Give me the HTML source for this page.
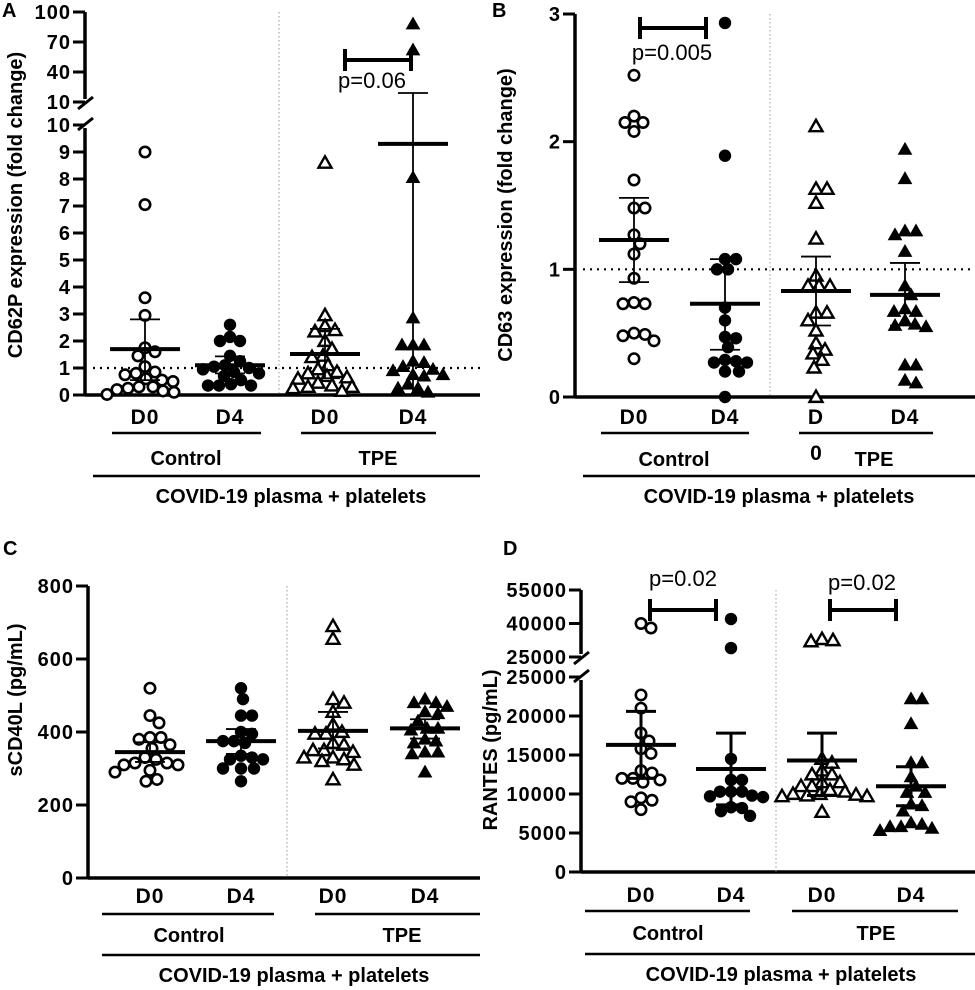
<!DOCTYPE html>
<html><head><meta charset="utf-8"><style>
html,body{margin:0;padding:0;background:#fff;}
svg{display:block;font-family:"Liberation Sans",Arial,sans-serif;}
</style></head><body>
<svg id="fig" width="975" height="990" viewBox="0 0 975 990" xmlns="http://www.w3.org/2000/svg"></svg>
<script>
// ---------- DATA ----------
const groupLabels = ["D0","D4","D0","D4"];
// Panel A: CD62P fold change
const aCtrlD0 = [9,7.05,3.6,2.95,1.6,1.75,1.45,1.05,0.8,0.75,0.85,0.55,0.6,0.5,0.3,0.25,0.15,0.2,0.1,0.3,0.02];
const aCtrlD4 = [2.6,2.15,2.0,2.0,1.45,1.25,1.1,1.05,1.0,0.95,0.85,0.8,0.7,0.55,0.35,0.35,0.35,0.4];
const aTpeD0 = [8.6,2.95,2.55,2.4,2.35,2.0,1.7,1.45,1.4,1.1,0.95,0.85,0.8,0.7,0.65,0.6,0.45,0.35,0.3,0.3,0.25,0.15];
const aTpeD4 = [88,62,8.05,2.85,1.85,1.85,1.85,1.25,1.2,1.05,0.95,0.9,0.75,0.75,0.7,0.4,0.25,0.25,0.1];
const aMean = [1.7,1.1,1.52,9.3];
const aLo = [0.55,0.8,0.62,0];
const aHi = [2.8,1.43,2.45,19];
// Panel B: CD63 fold change
const bCtrlD0 = [2.52,2.2,2.15,2.15,2.08,1.7,1.48,1.48,1.27,1.2,1.12,0.93,0.74,0.73,0.73,0.5,0.48,0.49,0.44,0.3];
const bCtrlD4 = [2.93,1.89,1.08,1.08,1.0,1.0,0.7,0.6,0.47,0.46,0.39,0.29,0.28,0.27,0.27,0.2,0.2,0.0];
const bTpeD0 = [2.12,1.63,1.63,1.52,1.24,0.95,0.87,0.87,0.87,0.66,0.66,0.6,0.52,0.42,0.37,0.34,0.29,0.23,0.0];
const bTpeD4 = [1.94,1.71,1.3,1.3,1.27,1.14,0.87,0.8,0.67,0.67,0.69,0.57,0.6,0.55,0.56,0.25,0.25,0.13,0.11];
const bMean = [1.23,0.73,0.83,0.8];
const bLo = [0.9,0.37,0.56,0.56];
const bHi = [1.56,1.08,1.1,1.05];
// Panel C: sCD40L pg/mL
const cCtrlD0 = [520,445,425,385,380,385,365,355,330,325,315,310,310,315,295,290,270,265];
const cCtrlD4 = [520,490,445,445,400,395,375,375,370,335,330,325,325,300,300,300,265];
const cTpeD0 = [690,655,490,480,455,420,400,395,395,370,365,350,350,345,330,330,320,325,310,270];
const cTpeD4 = [480,490,480,470,450,455,430,410,410,405,380,375,370,345,340,345,290];
const cMean = [345,375,403,410];
const cLo = [318,340,355,382];
const cHi = [372,408,455,435];
// Panel D: RANTES pg/mL
const dCtrlD0 = [40000,38000,22700,21000,17800,16800,15200,15800,13000,11800,12000,12000,12700,11500,9000,9200,9500,8000];
const dCtrlD4 = [42000,29000,14500,11800,11800,10300,10300,10300,9600,9800,9700,8200,8300,7800,7200];
const dTpeD0 = [33000,32500,32000,14500,14000,13000,12500,12500,11500,11500,11000,11000,10500,10300,10000,10000,9800,9700,9700,9900,7700];
const dTpeD4 = [22200,22200,19000,14000,14000,12200,11000,10200,10200,8700,8500,7800,6300,6100,5800,5800,5600,5300];
const dMean = [16300,13200,14300,11000];
const dLo = [12000,8600,9800,8500];
const dHi = [20600,17800,17800,13500];
const aTicksLow = [0,1,2,3,4,5,6,7,8,9,10];
const aTicksHigh = [10,40,70,100];
const bTicks = [0,1,2,3];
const cTicks = [0,200,400,600,800];
const dTicksLow = [0,5000,10000,15000,20000,25000];
const dTicksHigh = [25000,40000,55000];

// ---------- DRAW ----------
const NS="http://www.w3.org/2000/svg";
const svg=document.getElementById('fig');
function el(tag,attrs,parent,text){
  const e=document.createElementNS(NS,tag);
  for(const k in attrs) e.setAttribute(k,attrs[k]);
  if(text!==undefined) e.textContent=text;
  (parent||svg).appendChild(e);return e;
}
function makeScale(segs){
  return function(v){
    for(const s of segs){ if(v>=s.v0-1e-9 && v<=s.v1+1e-9) return s.y0+(v-s.v0)/(s.v1-s.v0)*(s.y1-s.y0); }
    const s=segs[segs.length-1]; return s.y0+(v-s.v0)/(s.v1-s.v0)*(s.y1-s.y0);
  };
}
function swarm(vals,ys,cx,d){
  const idx=vals.map((v,i)=>i).sort((a,b)=>vals[b]-vals[a]);
  const placed=[];const xs=new Array(vals.length);
  for(const i of idx){
    let off=0;
    for(let k=0;k<200;k++){
      const cand=k===0?0:(k%2?1:-1)*Math.ceil(k/2);
      const x=cx+cand;
      if(placed.every(p=>Math.hypot(p.x-x,p.y-ys[i])>=d)){off=cand;break;}
    }
    xs[i]=cx+off;placed.push({x:xs[i],y:ys[i]});
  }
  return xs;
}
function marker(g,kind,x,y){
  let m;
  if(kind==='oc') m=el('circle',{cx:x,cy:y,r:5.2,fill:'#fff',stroke:'#000','stroke-width':2.6},g);
  else if(kind==='fc') m=el('circle',{cx:x,cy:y,r:6.2,fill:'#000'},g);
  else {
    const s=6.5;
    m=el('polygon',{points:`${x},${y-s} ${x+s},${y+s*0.75} ${x-s},${y+s*0.75}`,
      fill:kind==='ot'?'#fff':'#000',stroke:'#000','stroke-width':kind==='ot'?2.4:1,'stroke-linejoin':'miter'},g);
  }
  
  
}
function panel(cfg){
  const g=el('g',{});
  
  
  const y=makeScale(cfg.segs);
  const ax=cfg.axisX;
  const lt=el('text',{x:cfg.letterX,y:cfg.letterY,'font-size':20,'font-weight':'bold'},g,cfg.letter);
  
  cfg.segs.forEach((s,i)=>{
    const top=(i===cfg.segs.length-1)?s.y1:s.y1+3;
    const bot=(i===0)?s.y0+1.5:s.y0-3;
    const l=el('line',{x1:ax,x2:ax,y1:top,y2:bot,stroke:'#000','stroke-width':3.5},g);
    
  });
  if(cfg.segs.length>1){
    const b1=cfg.segs[1].y0, b0=cfg.segs[0].y1;
    [b1+1,b0-1].forEach(yy=>{
      const l=el('line',{x1:ax-7,y1:yy+6,x2:ax+8,y2:yy-6,stroke:'#000','stroke-width':3},g);
      
    });
  }
  cfg.ticks.forEach((tk,si)=>{
    tk.forEach(v=>{
      const s=cfg.segs[si];
      const yy=s.y0+(v-s.v0)/(s.v1-s.v0)*(s.y1-s.y0);
      const l=el('line',{x1:ax-12,x2:ax,y1:yy,y2:yy,stroke:'#000','stroke-width':3},g);
      
      const t=el('text',{x:ax-14,y:yy+7,'font-size':20,'font-weight':'bold','text-anchor':'end','letter-spacing':'1'},g,String(v));
      
    });
  });
  const base=y(0);
  const xl=el('line',{x1:ax,x2:cfg.axisEnd,y1:base,y2:base,stroke:'#000','stroke-width':3.5},g);
  
  const topY=cfg.segs[cfg.segs.length-1].y1;
  const sep=el('line',{x1:cfg.sepX,x2:cfg.sepX,y1:topY,y2:base,stroke:'#999','stroke-width':1,'stroke-dasharray':'1.5,2.5'},g);
  
  if(cfg.refLine!==undefined){
    const r=el('line',{x1:ax+8,x2:cfg.axisEnd,y1:y(cfg.refLine),y2:y(cfg.refLine),stroke:'#000','stroke-width':2.2,'stroke-dasharray':'2,5'},g);
    
  }
  const kinds=['oc','fc','ot','ft'];
  cfg.series.forEach((vals,gi)=>{
    const cx=cfg.gx[gi];
    const ys=vals.map(v=>y(v));
    const xs=swarm(vals,ys,cx,cfg.dotD||10.5);
    vals.forEach((v,i)=>marker(g,kinds[gi],xs[i],ys[i]));
    const yl=y(cfg.lo[gi]),yh=y(cfg.hi[gi]),ym=y(cfg.mean[gi]);
    const e1=el('line',{x1:cx,x2:cx,y1:yl,y2:yh,stroke:'#000','stroke-width':cfg.ebw||1.8},g);
    
    [yl,yh].forEach(yy=>{
      const c=el('line',{x1:cx-15,x2:cx+15,y1:yy,y2:yy,stroke:'#000','stroke-width':cfg.ebw||1.8},g);
      
    });
    const m=el('line',{x1:cx-35,x2:cx+35,y1:ym,y2:ym,stroke:'#000','stroke-width':4},g);
    
    const lbl=cfg.xLabels&&cfg.xLabels[gi]!==undefined?cfg.xLabels[gi]:groupLabels[gi];
    const t=el('text',{x:cx,y:cfg.labY,'font-size':21,'font-weight':'bold','text-anchor':'middle','letter-spacing':'1'},g,lbl);
    
  });
  cfg.under.forEach((u,i)=>{
    const l=el('line',{x1:u[0],x2:u[1],y1:cfg.underY,y2:cfg.underY,stroke:'#000','stroke-width':2.5},g);
    
    const t=el('text',{x:cfg.catX[i],y:cfg.catY,'font-size':20,'font-weight':'bold','text-anchor':'middle'},g,['Control','TPE'][i]);
    
  });
  const ll=el('line',{x1:cfg.longX[0],x2:cfg.longX[1],y1:cfg.longY,y2:cfg.longY,stroke:'#000','stroke-width':2.5},g);
  
  const ct=el('text',{x:cfg.titleX,y:cfg.longY+27,'font-size':20,'font-weight':'bold','text-anchor':'middle'},g,'COVID-19 plasma + platelets');
  
  const yt=el('text',{x:0,y:0,'font-size':20,'font-weight':'bold','text-anchor':'middle',transform:`translate(${cfg.ytX},${cfg.ytY}) rotate(-90)`},g,cfg.yTitle);
  
  (cfg.brackets||[]).forEach(b=>{
    const bg=el('g',{},g);
    
    el('line',{x1:b.x1,x2:b.x2,y1:b.y,y2:b.y,stroke:'#000','stroke-width':4},bg);
    el('line',{x1:b.x1,x2:b.x1,y1:b.y-11,y2:b.y+11,stroke:'#000','stroke-width':4},bg);
    el('line',{x1:b.x2,x2:b.x2,y1:b.y-11,y2:b.y+11,stroke:'#000','stroke-width':4},bg);
    const pt=el('text',{x:b.tx,y:b.ty,'font-size':22,'text-anchor':'middle'},bg,b.text);
    
  });
}
panel({name:'panel-a',letter:'A',letterX:2,letterY:17,
  segs:[{v0:0,v1:10,y0:395,y1:125},{v0:10,v1:100,y0:102,y1:12}],
  ticks:[aTicksLow,aTicksHigh],axisX:85,axisEnd:480,sepX:279,refLine:1,
  series:[aCtrlD0,aCtrlD4,aTpeD0,aTpeD4],mean:aMean,lo:aLo,hi:aHi,
  gx:[145,230,325,413],labY:424,underY:433,under:[[112,261],[301,436]],catX:[186,378],catY:465,
  longX:[93,480],longY:476,titleX:291,ytX:22,ytY:205,yTitle:'CD62P expression (fold change)',
  brackets:[{x1:345,x2:411,y:60,tx:372,ty:88,text:'p=0.06'}]});
panel({name:'panel-b',letter:'B',letterX:492,letterY:17,
  segs:[{v0:0,v1:3,y0:397,y1:14}],ticks:[bTicks],axisX:575,axisEnd:975,sepX:770,refLine:1,
  series:[bCtrlD0,bCtrlD4,bTpeD0,bTpeD4],mean:bMean,lo:bLo,hi:bHi,
  gx:[634,725,816,905],xLabels:['D0','D4','D','D4'],labY:424,underY:433,under:[[601,749],[799,933]],catX:[674,874],catY:466,
  longX:[583,975],longY:476,titleX:779,ytX:512,ytY:215,yTitle:'CD63 expression (fold change)',
  brackets:[{x1:640,x2:706,y:28,tx:672,ty:60,text:'p=0.005'}]});
el('text',{x:816,y:460,'font-size':21,'font-weight':'bold','text-anchor':'middle',},svg,'0');
panel({name:'panel-c',letter:'C',letterX:3,letterY:555,
  segs:[{v0:0,v1:800,y0:878,y1:586}],ticks:[cTicks],axisX:88,axisEnd:480,sepX:287,
  series:[cCtrlD0,cCtrlD4,cTpeD0,cTpeD4],mean:cMean,lo:cLo,hi:cHi,dotD:11,
  gx:[150,241,333,425],labY:903,underY:914,under:[[102,274],[315,480]],catX:[189,402],catY:942,
  longX:[102,480],longY:955,titleX:294,ytX:22,ytY:700,yTitle:'sCD40L (pg/mL)'});
panel({name:'panel-d',letter:'D',letterX:503,letterY:555,
  segs:[{v0:0,v1:25000,y0:872,y1:677},{v0:25000,v1:55000,y0:657,y1:590}],
  ticks:[dTicksLow,dTicksHigh],axisX:581,axisEnd:975,sepX:776,
  series:[dCtrlD0,dCtrlD4,dTpeD0,dTpeD4],mean:dMean,lo:dLo,hi:dHi,dotD:10.5,ebw:3,
  gx:[641,731,822,911],labY:902,underY:911,under:[[585,750],[792,958]],catX:[668,876],catY:940,
  longX:[585,975],longY:954,titleX:781,ytX:497,ytY:750,yTitle:'RANTES (pg/mL)',
  brackets:[{x1:650,x2:716,y:610,tx:683,ty:586,text:'p=0.02'},{x1:830,x2:896,y:610,tx:862,ty:590,text:'p=0.02'}]});
</script>
</body></html>
